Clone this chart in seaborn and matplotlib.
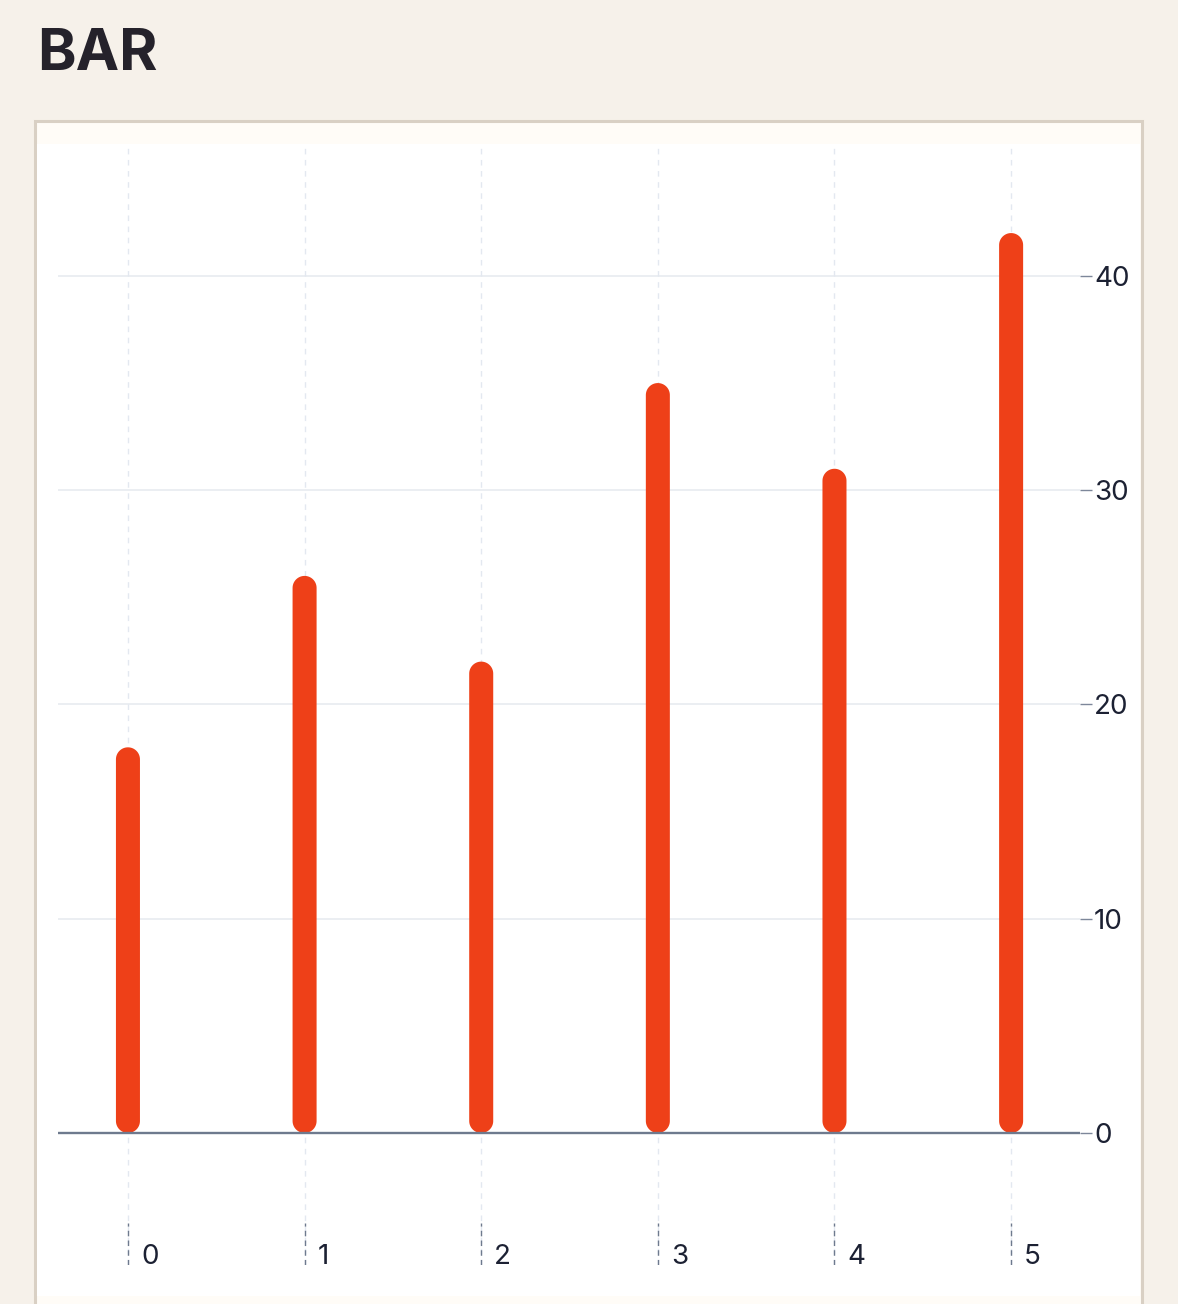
import numpy as np
import pandas as pd
import seaborn as sns
import matplotlib.pyplot as plt
from matplotlib.patches import Polygon, Rectangle
from matplotlib.transforms import blended_transform_factory, ScaledTranslation

categories = ["0", "1", "2", "3", "4", "5"]
values = [18, 26, 22, 35, 31, 42]
y_ticks = [0, 10, 20, 30, 40]

W, H, DPI = 1178, 1304, 100
BAR_COLOR = "#ee4018"
GRID = "#e6e9ef"
AXIS = "#6e7a8e"
TEXT = "#1c2133"

sns.set_theme(style="white")
plt.rcParams["font.family"] = ["Inter", "DejaVu Sans"]

fig = plt.figure(figsize=(W / DPI, H / DPI), dpi=DPI)
fig.patch.set_facecolor("#f6f1ea")


def px_rect(x0, y0, x1, y1, **kw):
    # rectangle in pixel coords measured from top-left
    return Rectangle((x0 / W, 1 - y1 / H), (x1 - x0) / W, (y1 - y0) / H,
                     transform=fig.transFigure, zorder=-5, **kw)


# card behind the chart
fig.patches.append(px_rect(35, 121, 1142, 1310, facecolor="#fffcf7",
                           edgecolor="#d9d0c4", linewidth=2.2))
fig.patches.append(px_rect(37, 144, 1140, 1296, facecolor="white",
                           edgecolor="none"))

fig.text(37 / W, 1 - 70 / H, "BAR", fontsize=42, fontweight="bold",
         color="#25222b", ha="left", va="baseline")

ax_l, ax_r, ax_t, ax_b = 58, 1080, 145, 1265
ax = fig.add_axes([ax_l / W, 1 - ax_b / H, (ax_r - ax_l) / W, (ax_b - ax_t) / H])
ax.set_facecolor("none")

df = pd.DataFrame({"x": categories, "y": values})
sns.barplot(data=df, x="x", y="y", color=BAR_COLOR, width=0.136,
            saturation=1, ax=ax, zorder=3)

ax.set_xlim(-0.396, 5.39)
ax.set_ylim(-6.16, 46.11)

# swap each seaborn bar for a pill shape with round ends
fig.canvas.draw()
inv = ax.transData.inverted()
p0 = inv.transform((0, 0))
p1 = inv.transform((1, 1))
aspect = (p1[1] - p0[1]) / (p1[0] - p0[0])
t_top = np.linspace(0, np.pi, 40)
t_bot = np.linspace(np.pi, 2 * np.pi, 40)
for bar in list(ax.patches):
    x, y = bar.get_x(), bar.get_y()
    w, h = bar.get_width(), bar.get_height()
    r = w / 2
    ry = r * aspect
    cx = x + r
    top = np.column_stack([cx + r * np.cos(t_top), y + h - ry + ry * np.sin(t_top)])
    bot = np.column_stack([cx + r * np.cos(t_bot), y + ry + ry * np.sin(t_bot)])
    ax.add_patch(Polygon(np.vstack([top, bot]), closed=True,
                         facecolor=BAR_COLOR, edgecolor="none", zorder=3))
    bar.remove()

for s in ax.spines.values():
    s.set_visible(False)

ax.set_xlabel("")
ax.set_ylabel("")

# y axis on the right
ax.set_yticks(y_ticks)
ax.yaxis.tick_right()
ax.tick_params(axis="y", which="both", direction="out", length=8.6, width=1,
               color="#7d879a", pad=1.5, labelsize=20, labelcolor=TEXT,
               right=True, left=False)
for yv in y_ticks[1:]:
    ax.axhline(yv, color=GRID, linewidth=1.1, zorder=1)
ax.axhline(0, color=AXIS, linewidth=1.7, zorder=4)

# x axis: dashed grid plus dark dashed ticks and offset labels
ax.set_xticks(range(len(categories)))
ax.set_xticklabels([])
ax.tick_params(axis="x", length=0)
ax.grid(False)
trans = blended_transform_factory(ax.transData, ax.transAxes)
for i, lab in enumerate(categories):
    ax.plot([i, i], [0, 1], transform=trans, color="#e3e8f0", linewidth=1,
            linestyle=(0, (4, 4)), zorder=1)
    ax.plot([i, i], [0, 42 / 1120], transform=trans, color=AXIS,
            linewidth=1, linestyle=(0, (4, 3)), zorder=2)
    ax.text(i, 8 / 1120, lab, transform=trans + ScaledTranslation(13 / DPI, 0, fig.dpi_scale_trans),
            ha="left", va="center", fontsize=20, color=TEXT)

fig.savefig("out.png", dpi=DPI, facecolor=fig.get_facecolor())
